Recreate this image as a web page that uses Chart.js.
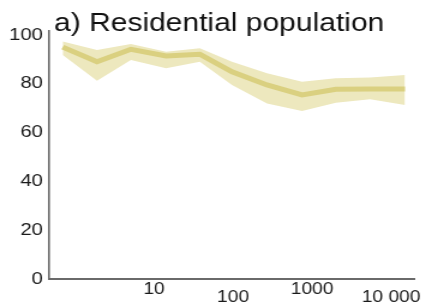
<!DOCTYPE html>
<html>
<head>
<meta charset="utf-8">
<script src="https://cdn.jsdelivr.net/npm/chart.js@4"></script>
<style>
  html, body { margin: 0; padding: 0; background: #fff; overflow: hidden; }
  #wrap { width: 360px; height: 305px; transform: scaleX(1.2); transform-origin: 0 0; }
</style>
</head>
<body>
<div id="wrap"><canvas id="chart" width="360" height="305"></canvas></div>
<script>
// 데이터
const titleText = "a) Residential population";
const xVals = [0.7, 1.9, 5.1, 14.2, 38, 97, 269, 746, 2000, 5420, 15000];
const meanVals = [95.0, 89.0, 94.1, 91.4, 92.1, 84.9, 79.5, 75.4, 77.7, 77.8, 77.8];
const upperVals = [97.3, 93.8, 96.3, 93.1, 94.5, 89.0, 84.3, 80.8, 82.2, 82.6, 83.6];
const lowerVals = [91.8, 81.2, 89.7, 86.3, 89.0, 79.5, 71.9, 68.8, 72.2, 73.6, 71.3];
const xTickVals = [10, 100, 1000, 10000];
const xTickLabels = ["10", "100", "1000", "10 000"];
const yTickVals = [0, 20, 40, 60, 80, 100];

const toPoints = (ys) => xVals.map((x, i) => ({ x: x, y: ys[i] }));

const FONT = '"Liberation Sans", Arial, Helvetica, sans-serif';
const bandColor = "rgb(237,232,190)";
const lineColor = "rgb(218,208,128)";
const axisColor = "#6a6a6a";

// 제목은 캔버스에 직접 그림
const titlePlugin = {
  id: "panelTitle",
  afterDraw(chart) {
    const ctx = chart.ctx;
    ctx.save();
    ctx.font = "25px " + FONT;
    ctx.fillStyle = "#111";
    ctx.textBaseline = "alphabetic";
    ctx.textAlign = "left";
    ctx.fillText(titleText, 45, 30.5);
    ctx.restore();
  },
};

const ctx = document.getElementById("chart").getContext("2d");
new Chart(ctx, {
  type: "line",
  data: {
    datasets: [
      {
        data: toPoints(meanVals),
        borderColor: lineColor,
        borderWidth: 5,
        pointRadius: 0,
        tension: 0,
        fill: false,
      },
      {
        data: toPoints(upperVals),
        borderWidth: 0,
        borderColor: "rgba(0,0,0,0)",
        backgroundColor: bandColor,
        pointRadius: 0,
        tension: 0,
        fill: "+1",
      },
      {
        data: toPoints(lowerVals),
        borderWidth: 0,
        borderColor: "rgba(0,0,0,0)",
        pointRadius: 0,
        tension: 0,
        fill: false,
      },
    ],
  },
  options: {
    responsive: false,
    animation: false,
    devicePixelRatio: 1,
    layout: { padding: { top: 31, right: 15, left: 0, bottom: 0 } },
    plugins: {
      legend: { display: false },
      tooltip: { enabled: false },
    },
    scales: {
      x: {
        type: "logarithmic",
        min: 0.469,
        max: 19500,
        afterBuildTicks: (scale) => {
          scale.ticks = xTickVals.map((v) => ({ value: v }));
        },
        afterFit: (scale) => {
          scale.height = 26;
        },
        grid: { display: true, drawOnChartArea: false, drawTicks: false },
        border: { display: true, color: axisColor, width: 2 },
        ticks: {
          autoSkip: false,
          maxRotation: 0,
          padding: 7,
          color: "#1a1a1a",
          font: { family: FONT, size: 16, lineHeight: 0.5 },
          callback: (v, i) => (i % 2 === 1 ? ["", xTickLabels[i]] : xTickLabels[i]),
        },
      },
      y: {
        min: 0,
        max: 101.6,
        afterBuildTicks: (scale) => {
          scale.ticks = yTickVals.map((v) => ({ value: v }));
        },
        afterFit: (scale) => {
          scale.width = 40.8;
        },
        grid: { display: true, drawOnChartArea: false, drawTicks: false },
        border: { display: true, color: axisColor, width: 1.6 },
        ticks: {
          padding: 5,
          color: "#1a1a1a",
          font: { family: FONT, size: 17 },
        },
      },
    },
  },
  plugins: [titlePlugin],
});
</script>
</body>
</html>
